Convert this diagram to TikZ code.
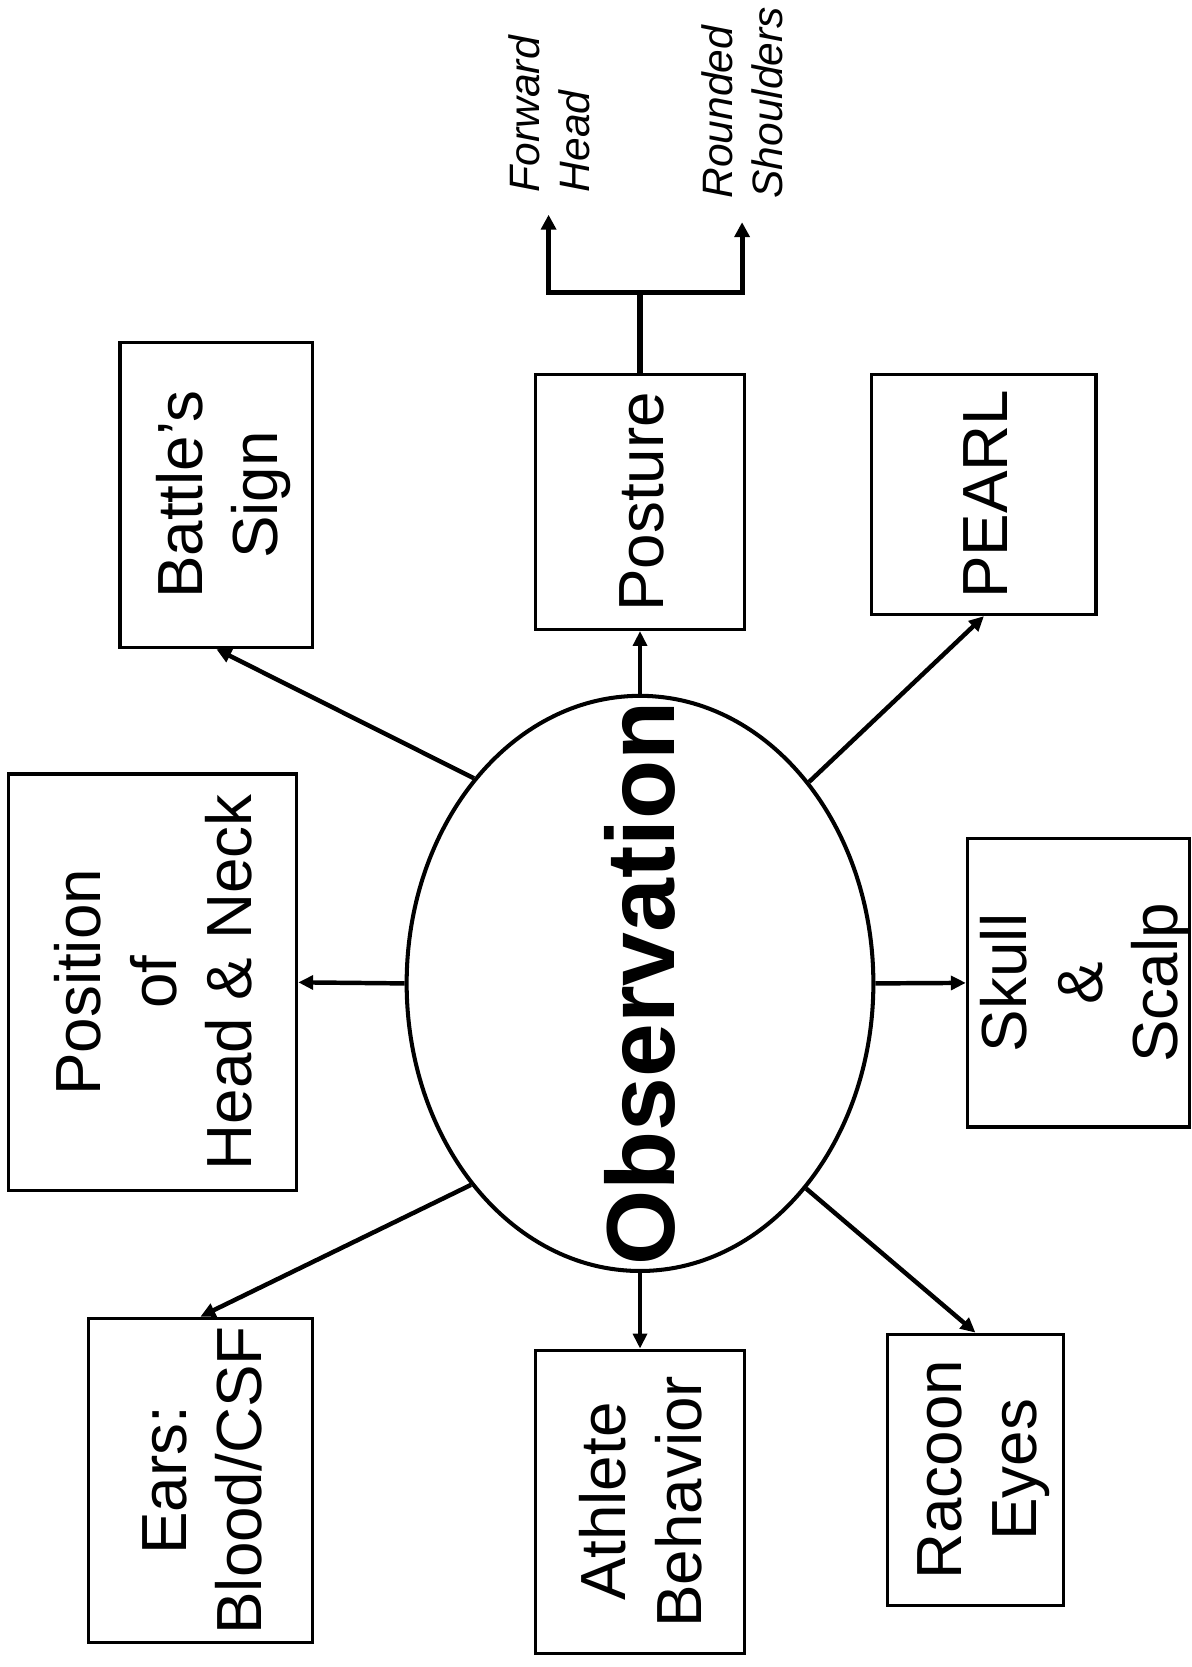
\documentclass[tikz,border=0pt]{standalone}
\usepackage{fontspec}
\setmainfont{Liberation Sans}
\usetikzlibrary{arrows.meta,shapes.geometric}
\newcommand\vlab[2]{\rotatebox{90}{\begin{tabular}{@{}#1@{}}#2\end{tabular}}}
\begin{document}
\begin{tikzpicture}[x=1pt,y=-1pt,
  box/.style={draw, line width=3.1pt, rectangle, inner sep=0pt},
  txt/.style={inner sep=0pt, xshift=8pt, font=\fontsize{60}{71}\selectfont},
  itl/.style={inner sep=0pt, font=\fontsize{40}{47}\selectfont\itshape},
  arr/.style={line width=4.2pt, -{Triangle[length=14pt,width=13pt]}},
  brline/.style={line width=4.8pt, line join=miter}]
\useasboundingbox (0,0) rectangle (1121,1568);

% central ellipse
\node[draw, ellipse, line width=3.8pt, minimum width=439pt, minimum height=541pt, inner sep=0pt] (obs) at (602,925) {};
\node[inner sep=0pt, font=\fontsize{91}{100}\selectfont\bfseries] (obsT) at (obs.center) {\rotatebox{90}{Observation}};

% boxes
\node[box, minimum width=181pt, minimum height=287pt] (battle) at (203.5,465.5) {};
\node[txt] (battleT) at (battle.center) {\vlab{c}{Battle’s\\Sign}};

\node[box, minimum width=196pt, minimum height=240pt] (posture) at (602,472) {};
\node[txt] (postureT) at (posture.center) {\vlab{c}{Posture}};

\node[box, minimum width=211pt, minimum height=226pt] (pearl) at (925.5,465) {};
\node[txt] (pearlT) at (pearl.center) {\vlab{c}{PEARL}};

\node[box, minimum width=271pt, minimum height=392pt] (position) at (143.5,924) {};
\node[txt] (positionT) at (position.center) {\vlab{c}{Position\\of\\Head \& Neck}};

\node[box, minimum width=209pt, minimum height=271pt] (skull) at (1014.5,924.5) {};
\node[txt] (skullT) at (skull.center) {\vlab{c}{Skull\\\&\\Scalp}};

\node[box, minimum width=211pt, minimum height=305pt] (ears) at (188.5,1392.5) {};
\node[txt] (earsT) at (ears.center) {\vlab{c}{Ears:\\Blood/CSF}};

\node[box, minimum width=196pt, minimum height=285pt] (athlete) at (602,1412.5) {};
\node[txt] (athleteT) at (athlete.center) {\vlab{c}{Athlete\\Behavior}};

\node[box, minimum width=165pt, minimum height=255pt] (racoon) at (917.5,1382.5) {};
\node[txt] (racoonT) at (racoon.center) {\vlab{c}{Racoon\\Eyes}};

% connectors from ellipse
\draw[arr] (obs.129.3) -- (battle.south);
\draw[arr] (obs.north) -- (posture.south);
\draw[arr] (obs.50.7) -- (pearl.south);
\draw[arr] (obs.west) -- (position.east);
\draw[arr] (obs.east) -- (skull.west);
\draw[arr] (obs.230.7) -- (ears.north);
\draw[arr] (obs.south) -- (athlete.north);
\draw[arr] (obs.309.3) -- (racoon.north);

% posture branch
\coordinate (br) at (602,275);
\coordinate (brL) at (516,275);
\coordinate (brR) at (698,275);
\coordinate (fwdtip) at (516,202);
\coordinate (rndtip) at (698,209);
\draw[brline] (posture.north) -- (br);
\draw[brline, {Triangle[length=14pt,width=14pt]}-{Triangle[length=14pt,width=14pt]}] (fwdtip) -- (brL) -- (brR) -- (rndtip);

\node[itl, anchor=south] (fwd) at (522,181) {\vlab{l}{Forward\\Head}};
\node[itl, anchor=south] (rnd) at (703,187) {\vlab{l}{Rounded\\Shoulders}};
\end{tikzpicture}
\end{document}
